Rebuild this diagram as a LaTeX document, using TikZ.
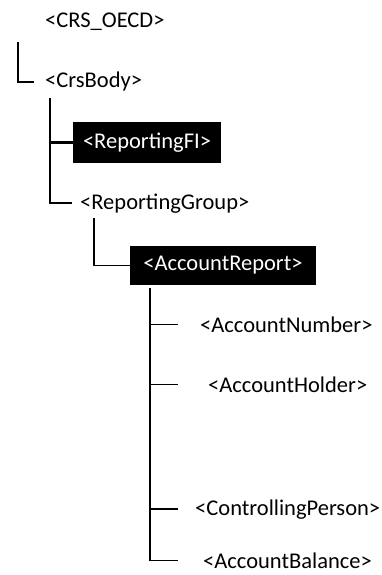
\documentclass[tikz,border=0pt]{standalone}
\usepackage{fontspec}
\setmainfont{Carlito}
\begin{document}
\begin{tikzpicture}[x=1pt,y=-1pt,
  lbl/.style={anchor=base west,inner sep=0pt,font=\fontsize{22.5}{26}\selectfont},
  darkbox/.style={fill=black,text=white,inner sep=0pt,font=\fontsize{22.5}{26}\selectfont},
  conn/.style={line width=1.3pt,black},
  thick conn/.style={line width=2.2pt,black}]
\useasboundingbox (0,0) rectangle (382,575);
% nodes
\node[lbl] (oecd) at (45,28) {<CRS\_OECD>};
\node[lbl] (body) at (45,88) {<CrsBody>};
\node[darkbox,minimum width=148pt,minimum height=41pt] (fi) at (147,142.5) {<ReportingFI>};
\node[lbl] (group) at (80,209) {<ReportingGroup>};
\node[darkbox,minimum width=186pt,minimum height=39pt] (report) at (223,265.5) {<AccountReport>};
\node[lbl] (num) at (200,332) {<AccountNumber>};
\node[lbl] (holder) at (208,392) {<AccountHolder>};
\node[lbl] (ctrl) at (195,515) {<ControllingPerson>};
\node[lbl] (bal) at (203,568) {<AccountBalance>};
% trunk tops
\coordinate (t1) at (18,42);
\coordinate (t2) at (50,98);
\coordinate (t3) at (94,218);
\coordinate (t4) at (150,288);
% connectors
\draw[conn] (t1) |- ([xshift=-11pt]body.west);
\draw[thick conn] (t2) |- (fi.west);
\draw[thick conn] (t2) |- ([xshift=-8pt]group.west);
\draw[conn] (t3) |- (report.west);
\draw[conn] (t4) |- ([xshift=-22pt]num.west);
\draw[conn] (t4) |- ([xshift=-30pt]holder.west);
\draw[conn] (t4) |- ([xshift=-17pt]ctrl.west);
\draw[conn] (t4) |- ([xshift=-25pt]bal.west);
\end{tikzpicture}
\end{document}
